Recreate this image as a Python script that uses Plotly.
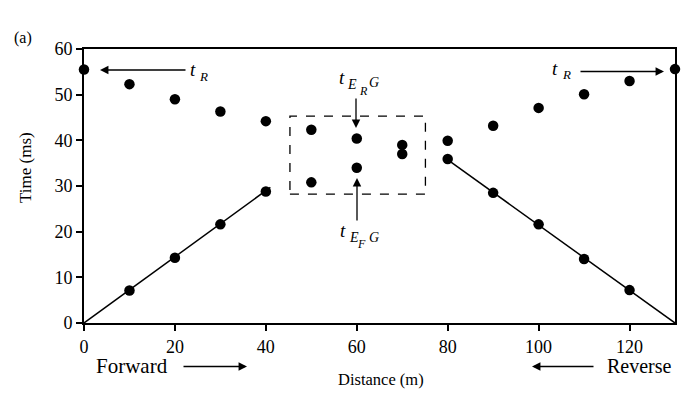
import plotly.graph_objects as go

# ---- data ----
dist_r = [0, 10, 20, 30, 40, 50, 60, 70, 80, 90, 100, 110, 120, 130]
time_r = [55.5, 52.3, 49.0, 46.3, 44.2, 42.3, 40.4, 39.0, 39.9, 43.2, 47.1, 50.1, 53.0, 55.6]

dist_f = [10, 20, 30, 40, 50, 60, 70, 80, 90, 100, 110, 120]
time_f = [7.1, 14.3, 21.6, 28.8, 30.8, 34.0, 37.0, 35.9, 28.5, 21.6, 14.0, 7.2]

fwd_line_x = [0, 41]
fwd_line_y = [0, 29.7]
rev_line_x = [79.5, 130]
rev_line_y = [36.1, 0]

box_x = [45.3, 75.1]
box_y = [28.2, 45.3]

x_ticks = [0, 20, 40, 60, 80, 100, 120]
y_ticks = [0, 10, 20, 30, 40, 50, 60]

FONT = "Liberation Serif"

# pixel -> paper helpers for annotation placement
L, R, T, B = 84.0, 675.0, 49.0, 323.0
W, H = R - L, B - T
def px_(px):
    return (px - L) / W
def py_(py):
    return (B - py) / H

fig = go.Figure()
fig.add_trace(go.Scatter(x=fwd_line_x, y=fwd_line_y, mode="lines",
                         line=dict(color="black", width=1.5), cliponaxis=False))
fig.add_trace(go.Scatter(x=rev_line_x, y=rev_line_y, mode="lines",
                         line=dict(color="black", width=1.5), cliponaxis=False))
fig.add_trace(go.Scatter(x=dist_r, y=time_r, mode="markers",
                         marker=dict(color="black", size=10.5), cliponaxis=False))
fig.add_trace(go.Scatter(x=dist_f, y=time_f, mode="markers",
                         marker=dict(color="black", size=10.5), cliponaxis=False))

shapes = [
    dict(type="rect", xref="x", yref="y", x0=box_x[0], x1=box_x[1], y0=box_y[0], y1=box_y[1],
         line=dict(color="black", width=1.3, dash="dash")),
]

ann = []
def txt(px, py, s, size, italic=True, angle=0):
    ann.append(dict(x=px_(px), y=py_(py), xref="paper", yref="paper",
                    text=(f"<i>{s}</i>" if italic else s), textangle=angle,
                    showarrow=False, xanchor="center", yanchor="middle",
                    font=dict(family=FONT, size=size, color="black")))
def arrow(hx, hy, tx, ty):
    ann.append(dict(x=px_(hx), y=py_(hy), ax=tx - hx, ay=ty - hy, xref="paper", yref="paper",
                    axref="pixel", ayref="pixel", text="", showarrow=True, arrowhead=2,
                    arrowsize=1.3, arrowwidth=1.3, arrowcolor="black"))

# t_R left
txt(193, 69, "t", 19)
txt(203, 76, "R", 13)
arrow(100, 70, 187, 70)
# t_R right
txt(555, 68, "t", 19)
txt(566, 74, "R", 13)
arrow(664, 71.5, 579, 71.5)
# t_ERG
txt(342, 77, "t", 19)
txt(352, 84, "E", 14)
txt(363, 91, "R", 12)
txt(374, 83, "G", 14)
arrow(356, 128, 356, 97)
# t_EFG
txt(343, 230, "t", 19)
txt(354, 237, "E", 14)
txt(361, 244, "F", 12)
txt(374, 237, "G", 14)
arrow(357, 178, 357, 222)

# Forward / Reverse
txt(132, 366, "Forward", 21, italic=False)
arrow(247, 366.5, 182, 366.5)
txt(639, 366, "Reverse", 20, italic=False)
arrow(532, 366.5, 595, 366.5)

# axis titles and panel label
txt(381, 379, "Distance (m)", 16.5, italic=False)
txt(25, 168, "Time (ms)", 17, italic=False, angle=-90)
txt(23, 38, "(a)", 16, italic=False)

fig.update_layout(
    width=687, height=405,
    margin=dict(l=84, r=12, t=49, b=82),
    paper_bgcolor="white", plot_bgcolor="white",
    showlegend=False,
    shapes=shapes, annotations=ann,
    font=dict(family=FONT, color="black"),
)
fig.update_xaxes(range=[0, 130], tickvals=x_ticks, ticks="outside", ticklen=6, tickwidth=1.5,
                 tickcolor="black", showline=True, linecolor="black", linewidth=2, mirror=True,
                 showgrid=False, zeroline=False, automargin=False,
                 tickfont=dict(family=FONT, size=18, color="black"))
fig.update_yaxes(range=[0, 60], tickvals=y_ticks, ticks="outside", ticklen=6, tickwidth=1.5,
                 tickcolor="black", showline=True, linecolor="black", linewidth=2, mirror=True,
                 showgrid=False, zeroline=False, automargin=False,
                 tickfont=dict(family=FONT, size=18, color="black"))

fig.write_html("out.html", config={"displayModeBar": False},
               post_script="document.body.style.margin='0';")
